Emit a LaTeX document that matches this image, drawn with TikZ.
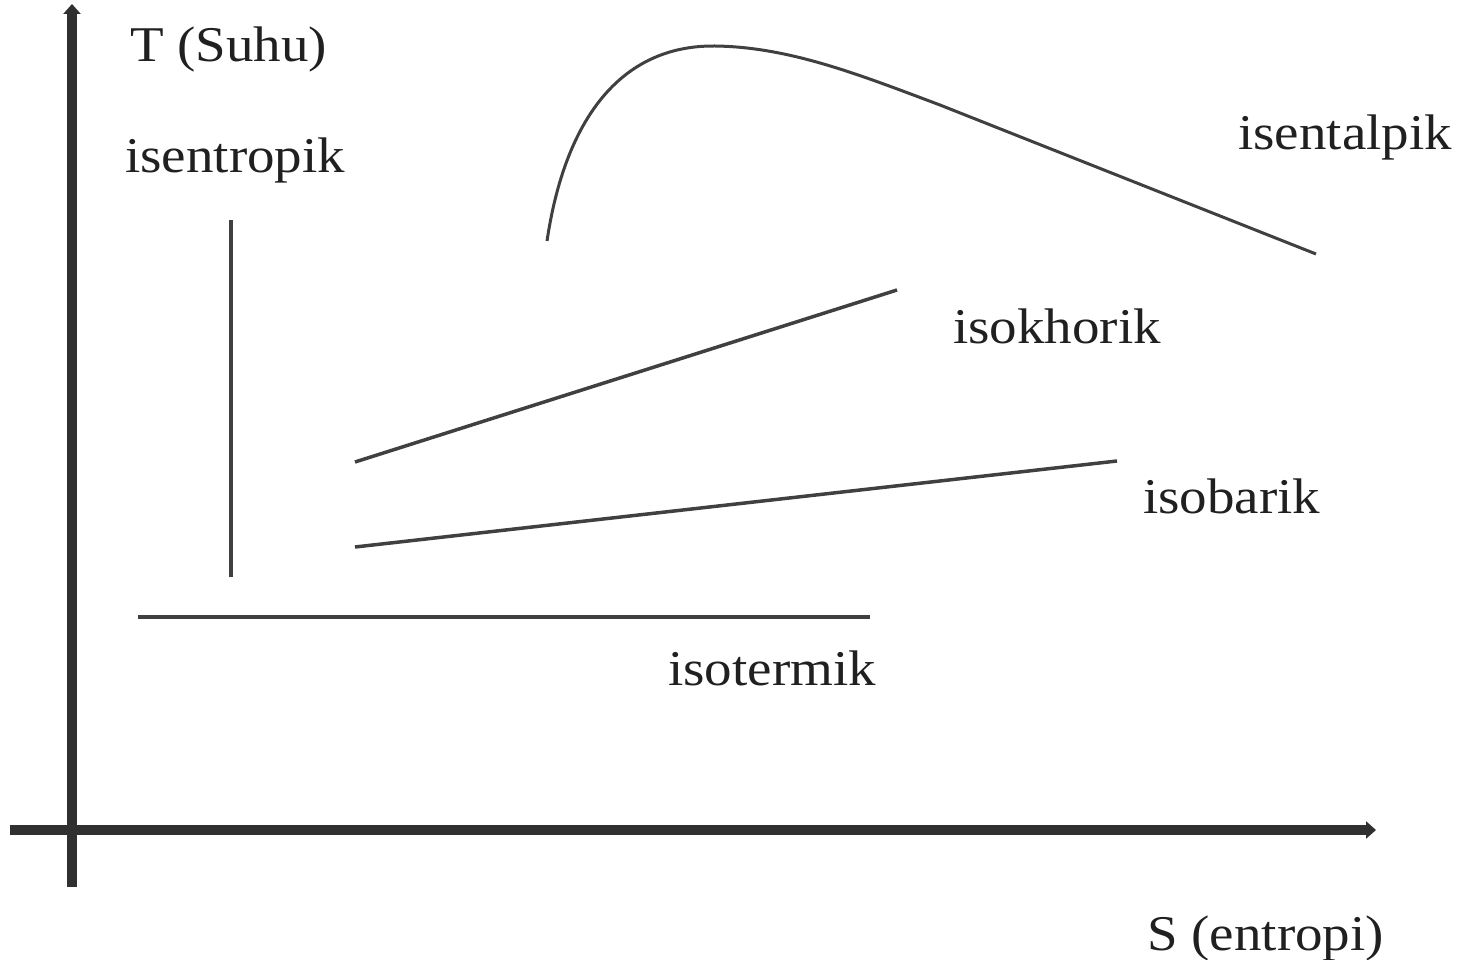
\documentclass[tikz,border=0pt]{standalone}
\usepackage{fontspec}
\setmainfont{Liberation Serif}[FakeStretch=1.1]
\usetikzlibrary{arrows.meta}
\definecolor{axisgray}{HTML}{303030}
\definecolor{linegray}{HTML}{404040}
\definecolor{txtgray}{HTML}{202020}
\tikzset{
  axisline/.style={line width=10pt, draw=axisgray, -{Triangle[length=10pt,width=17pt]}},
  procline/.style={line width=3.5pt, draw=linegray},
  lbl/.style={anchor=base west, inner sep=0pt, text=txtgray, font=\fontsize{50}{60}\selectfont},
}
\begin{document}
\begin{tikzpicture}[x=1pt,y=-1pt]
\useasboundingbox (0,0) rectangle (1461,960);
% axes
\coordinate (ybot) at (72,887);
\coordinate (ytop) at (72,4);
\coordinate (xleft) at (10,830);
\coordinate (xright) at (1376,830);
\draw[axisline] (ybot) -- (ytop);
\draw[axisline] (xleft) -- (xright);
% isentropic
\coordinate (sA) at (231,220);
\coordinate (sB) at (231,577);
\draw[procline] (sA) -- (sB);
% isothermal
\coordinate (tA) at (138,617);
\coordinate (tB) at (870,617);
\draw[procline] (tA) -- (tB);
% isobaric
\coordinate (pA) at (355,547);
\coordinate (pB) at (1117,461);
\draw[procline] (pA) -- (pB);
% isochoric
\coordinate (vA) at (355,462);
\coordinate (vB) at (897,290);
\draw[procline] (vA) -- (vB);
% isenthalpic
\coordinate (hA) at (547,241);
\coordinate (hP) at (715,46);
\coordinate (hM) at (940,105);
\coordinate (hB) at (1316,254);
\draw[procline, line width=3pt] (hA) .. controls (565,120) and (620,45) .. (hP)
   .. controls (790,47) and (860,75) .. (hM) -- (hB);
% labels
\node[lbl] (lT) at (130,62) {T (Suhu)};
\node[lbl] (lS) at (1147,950) {S (entropi)};
\node[lbl] (lse) at (125,173) {isentropik};
\node[lbl] (lh) at (1238,150) {isentalpik};
\node[lbl] (lv) at (953,343) {isokhorik};
\node[lbl] (lp) at (1143,513) {isobarik};
\node[lbl] (lt) at (668,685) {isotermik};
\end{tikzpicture}
\end{document}
